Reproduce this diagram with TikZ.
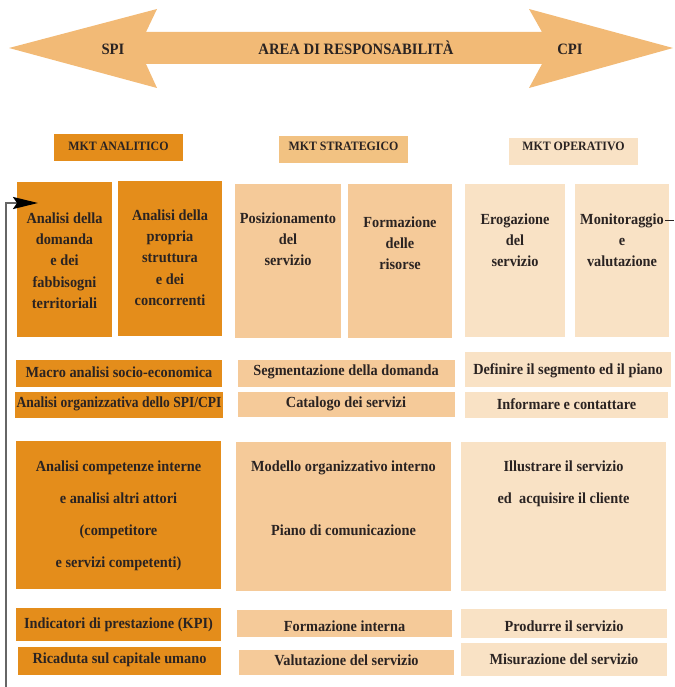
\documentclass[tikz,border=0pt]{standalone}
\usepackage{fontspec}
\setmainfont{Liberation Serif}[FakeStretch=0.93]
\usetikzlibrary{fit,arrows.meta}

\definecolor{cdark}{HTML}{E48D1B}
\definecolor{cmid}{HTML}{F5CA99}
\definecolor{cmidhead}{HTML}{F2C282}
\definecolor{clight}{HTML}{F9E2C5}
\definecolor{carrow}{HTML}{F2BA76}
\definecolor{ink}{HTML}{2A2322}
\definecolor{loopgray}{HTML}{666666}

\begin{document}
\begin{tikzpicture}[x=1pt,y=-1pt,
  panel/.style={inner sep=0pt, outer sep=0pt},
  dk/.style={panel, fill=cdark},
  md/.style={panel, fill=cmid},
  lt/.style={panel, fill=clight},
  rowtext/.style={text=ink, inner sep=0pt,
    font=\bfseries\fontsize{15.4}{21}\selectfont},
  headtext/.style={text=ink, inner sep=0pt,
    font=\bfseries\fontsize{12.8}{15}\selectfont},
  body/.style={text=ink, inner sep=0pt, anchor=north, align=center,
    font=\bfseries\fontsize{15.4}{21.3}\selectfont},
  widebody/.style={body, font=\bfseries\fontsize{15.4}{32}\selectfont},
  arrowtxt/.style={text=ink, inner sep=0pt, anchor=base,
    font=\bfseries\fontsize{15.8}{18}\selectfont},
  loopline/.style={draw=loopgray, line width=2.2pt,
    -{Stealth[length=25pt,width=12pt,inset=4pt,color=black]}}
]
\useasboundingbox (0,0) rectangle (674,687);

% double arrow: area of responsibility
\fill[carrow] (9,48) -- (157,9) -- (146,32) -- (542,32) -- (529,9) -- (673,48)
  -- (529,88) -- (542,64) -- (146,64) -- (157,88) -- cycle;
\node[arrowtxt] (spi)  at (113,55) {SPI};
\node[arrowtxt] (area) at (356,55) {AREA DI RESPONSABILITÀ};
\node[arrowtxt] (cpi)  at (570,55) {CPI};

% column headers
\node[dk, fit={(54,134)(183,161)}] (hana) {};
\node[panel, fill=cmidhead, fit={(279,136)(408,163)}] (hstr) {};
\node[lt, fit={(509,138)(638,165)}] (hope) {};
\node[headtext] (hana-t) at (118.5,146.5) {MKT ANALITICO};
\node[headtext] (hstr-t) at (343.5,146.5) {MKT STRATEGICO};
\node[headtext] (hope-t) at (573.5,146.5) {MKT OPERATIVO};

% first row of tall panels
\node[dk, fit={(17,182)(112,337)}] (bdom) {};
\node[dk, fit={(118,181)(222,336)}] (bstr) {};
\node[md, fit={(235,184)(341,338)}] (bpos) {};
\node[md, fit={(348,184)(452,338)}] (bris) {};
\node[lt, fit={(465,184)(565,337)}] (bero) {};
\node[lt, fit={(575,184)(669,337)}] (bmon) {};

\node[body] (tdom) at (64.5,212.5) {Analisi della\\domanda\\e dei\\fabbisogni\\territoriali};
\node[body] (tstr) at (170,209.5) {Analisi della\\propria\\struttura\\e dei\\concorrenti};
\node[body] (tpos) at (288,212.5) {Posizionamento\\del\\servizio};
\node[body] (tris) at (400,216.5) {Formazione\\delle\\risorse};
\node[body] (tero) at (515,213.5) {Erogazione\\del\\servizio};
\node[body] (tmon) at (622,213.5) {Monitoraggio\\e\\valutazione};

% second row
\node[dk, fit={(16,360)(222,387)}] (macro) {};
\node[dk, fit={(15,392)(223,418)}] (orgz) {};
\node[md, fit={(238,360)(455,387)}] (segm) {};
\node[md, fit={(238,392)(455,417)}] (catal) {};
\node[lt, fit={(465,352)(671,387)}] (defin) {};
\node[lt, fit={(465,392)(668,418)}] (infor) {};
\node[rowtext] (macro-t) at (119,372) {Macro analisi socio-economica};
\node[rowtext] (orgz-t)  at (119,404) {\scalebox{0.945}[1]{Analisi organizzativa dello SPI/CPI}};
\node[rowtext] (segm-t)  at (346,372) {Segmentazione della domanda};
\node[rowtext] (catal-t) at (346,404) {Catalogo dei servizi};
\node[rowtext] (defin-t) at (568,371) {Definire il segmento ed il piano};
\node[rowtext] (infor-t) at (566.5,404) {Informare e contattare};

% third row
\node[dk, fit={(16,441)(221,589)}] (bcomp) {};
\node[md, fit={(236,442)(451,591)}] (bmod) {};
\node[lt, fit={(461,442)(666,591)}] (bill) {};

\node[widebody] (tcomp) at (118.5,460.5)
  {Analisi competenze interne\\e analisi altri attori\\(competitore\\e servizi competenti)};
\node[body, font=\bfseries\fontsize{15.4}{64}\selectfont] (tmod) at (343.5,460.5)
  {Modello organizzativo interno\\Piano di comunicazione};
\node[widebody] (till) at (563.5,460.5)
  {Illustrare il servizio\\ed~ acquisire il cliente};

% fourth row
\node[dk, fit={(16,608)(221,641)}] (kpi) {};
\node[dk, fit={(18,647)(221,675)}] (ricad) {};
\node[md, fit={(237,610)(452,637)}] (forma) {};
\node[md, fit={(239,650)(454,675)}] (valut) {};
\node[lt, fit={(461,609)(667,638)}] (prod) {};
\node[lt, fit={(461,643)(667,676)}] (misur) {};
\node[rowtext] (kpi-t)   at (118.5,625) {Indicatori di prestazione (KPI)};
\node[rowtext] (ricad-t) at (119.5,660) {Ricaduta sul capitale umano};
\node[rowtext] (forma-t) at (344.5,626) {Formazione interna};
\node[rowtext] (valut-t) at (346.5,660) {Valutazione del servizio};
\node[rowtext] (prod-t)  at (564,626) {Produrre il servizio};
\node[rowtext] (misur-t) at (564,659) {Misurazione del servizio};

% feedback loop back into the first analysis panel
\coordinate (loopfoot) at (6,687);
\coordinate (loopin) at (38,203);
\draw[loopline] (loopfoot) |- (loopin);

% outgoing stub from the monitoring panel
\coordinate (monout) at (665,220);
\coordinate (monedge) at (674,220);
\draw[ink, line width=0.8pt] (monout) -- (monedge);
\end{tikzpicture}
\end{document}
